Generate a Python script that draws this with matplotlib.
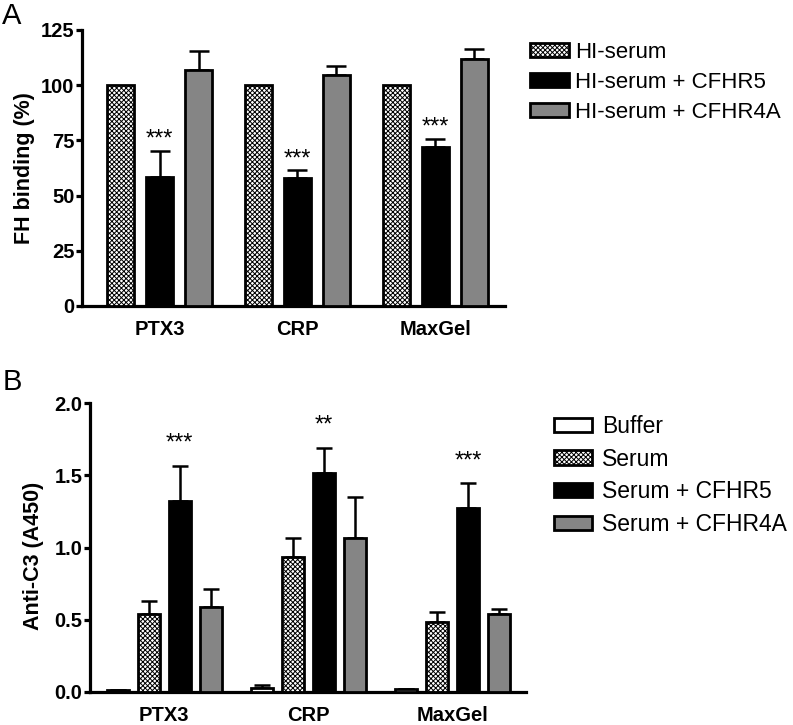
import numpy as np
import matplotlib
matplotlib.use("Agg")
import matplotlib.pyplot as plt

plt.rcParams['font.family'] = ['Liberation Sans', 'DejaVu Sans']
plt.rcParams['hatch.linewidth'] = 0.7

targets = ["PTX3", "CRP", "MaxGel"]

# panel A: FH binding (%)
a_labels = ["HI-serum", "HI-serum + CFHR5", "HI-serum + CFHR4A"]
a_vals = [[100, 100, 100], [58.6, 57.8, 72.1], [106.9, 104.6, 111.7]]
a_err = [[0, 0, 0], [11.6, 3.6, 3.5], [8.7, 4.1, 4.7]]

# panel B: Anti-C3 (A450)
b_labels = ["Buffer", "Serum", "Serum + CFHR5", "Serum + CFHR4A"]
b_vals = [[0.01, 0.025, 0.02], [0.539, 0.932, 0.481],
          [1.322, 1.519, 1.276], [0.59, 1.064, 0.539]]
b_err = [[0, 0.025, 0], [0.091, 0.132, 0.069],
         [0.245, 0.173, 0.169], [0.12, 0.284, 0.032]]
b_stars = [["", "", ""], ["", "", ""], ["***", "**", "***"], ["", "", ""]]

fills = {"hatch": ("white", "xxxxxxx"), "black": ("black", None),
         "grey": ("#858585", None), "white": ("white", None)}
a_styles = ["hatch", "black", "grey"]
b_styles = ["white", "hatch", "black", "grey"]

fig = plt.figure(figsize=(7.93, 7.25), dpi=100)
axA = fig.add_axes([0.1034, 0.578, 0.5334, 0.3807])
axB = fig.add_axes([0.1135, 0.0459, 0.5498, 0.3978])

x = np.arange(len(targets))


def style_axis(ax):
    for s in ["top", "right"]:
        ax.spines[s].set_visible(False)
    for s in ["left", "bottom"]:
        ax.spines[s].set_linewidth(2.3)
    ax.tick_params(axis="y", direction="out", length=4.5, width=2.3,
                   pad=1, labelsize=14.5)
    ax.tick_params(axis="x", length=0, pad=10, labelsize=14.5)
    for t in ax.get_xticklabels() + ax.get_yticklabels():
        t.set_fontweight("bold")


# panel A
pitch = 0.2826
width = 0.196
for i, (lab, st) in enumerate(zip(a_labels, a_styles)):
    fc, h = fills[st]
    xi = x + (i - 1) * pitch
    axA.bar(xi, a_vals[i], width, color=fc, edgecolor="black", linewidth=2,
            hatch=h, label=lab, zorder=3)
    if any(a_err[i]):
        axA.errorbar(xi, a_vals[i], yerr=[np.zeros(3), a_err[i]], fmt="none",
                     ecolor="black", elinewidth=1.8, capsize=7, capthick=1.8,
                     zorder=2)
for j in range(3):
    top = a_vals[1][j] + a_err[1][j]
    axA.annotate("***", (x[j], top), xytext=(0, 0), textcoords="offset points",
                 ha="center", va="bottom", fontsize=17)
axA.set_xlim(-0.562, 2.504)
axA.set_ylim(0, 125)
axA.set_yticks([0, 25, 50, 75, 100, 125])
axA.set_xticks(x)
axA.set_xticklabels(targets)
axA.set_ylabel("FH binding (%)", fontsize=15.5, fontweight="bold")
axA.yaxis.set_label_coords(-0.112, 0.5)
style_axis(axA)
axA.legend(loc="upper left", bbox_to_anchor=(0.668, 0.942),
           bbox_transform=fig.transFigure, frameon=False, fontsize=16,
           handlelength=1.75, handleheight=0.6, handletextpad=0.3,
           labelspacing=0.4, borderaxespad=0, borderpad=0)

# panel B
pitch = 0.2153
width = 0.153
for i, (lab, st) in enumerate(zip(b_labels, b_styles)):
    fc, h = fills[st]
    xi = x + (i - 1.5) * pitch
    axB.bar(xi, b_vals[i], width, color=fc, edgecolor="black", linewidth=2,
            hatch=h, label=lab, zorder=3)
    if any(b_err[i]):
        axB.errorbar(xi, b_vals[i], yerr=[np.zeros(3), b_err[i]], fmt="none",
                     ecolor="black", elinewidth=1.8, capsize=6, capthick=1.8,
                     zorder=2)
    for j in range(3):
        if b_stars[i][j]:
            top = b_vals[i][j] + b_err[i][j]
            axB.annotate(b_stars[i][j], (xi[j], top), xytext=(0, 8),
                         textcoords="offset points", ha="center", va="bottom",
                         fontsize=17)
axB.set_xlim(-0.514, 2.51)
axB.set_ylim(0, 2.0)
axB.set_yticks([0.0, 0.5, 1.0, 1.5, 2.0])
axB.set_yticklabels(["0.0", "0.5", "1.0", "1.5", "2.0"])
axB.set_xticks(x)
axB.set_xticklabels(targets)
axB.set_ylabel("Anti-C3 (A450)", fontsize=15.5, fontweight="bold")
axB.yaxis.set_label_coords(-0.106, 0.47)
style_axis(axB)
axB.legend(loc="upper left", bbox_to_anchor=(0.698, 0.428),
           bbox_transform=fig.transFigure, frameon=False, fontsize=16.5,
           handlelength=1.7, handleheight=0.57, handletextpad=0.4,
           labelspacing=0.43, borderaxespad=0, borderpad=0)

fig.text(0.003, 0.997, "A", fontsize=21, va="top", ha="left")
fig.text(0.003, 0.492, "B", fontsize=21, va="top", ha="left")

fig.savefig("out.png", dpi=100)
